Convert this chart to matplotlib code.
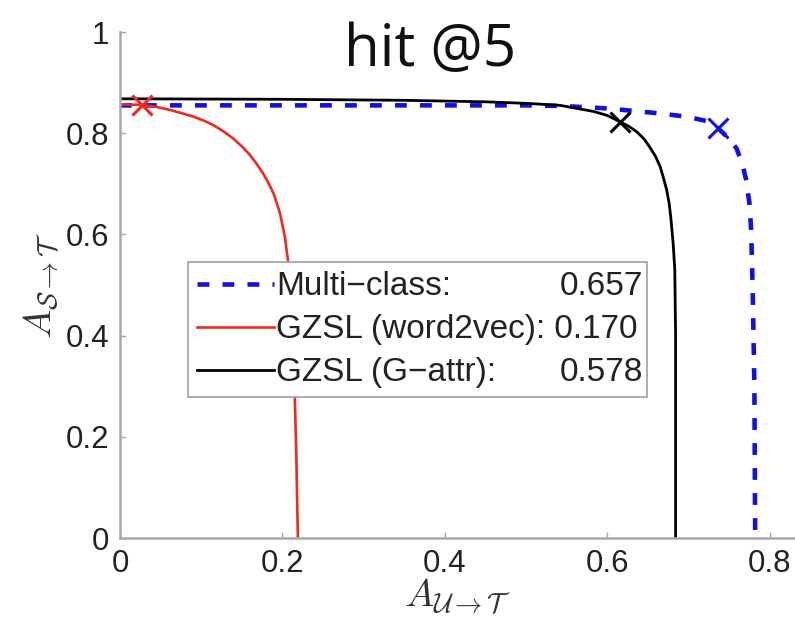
import matplotlib
matplotlib.use("Agg")
import matplotlib.pyplot as plt

# curves (x = A_U->T, y = A_S->T)
multi_x = [0.000, 0.200, 0.400, 0.500, 0.542, 0.600, 0.665, 0.700, 0.722, 0.736,
           0.748, 0.759, 0.766, 0.771, 0.775, 0.777, 0.779, 0.781, 0.782]
multi_y = [0.855, 0.855, 0.855, 0.855, 0.854, 0.849, 0.839, 0.832, 0.824, 0.810,
           0.792, 0.770, 0.740, 0.707, 0.660, 0.609, 0.484, 0.300, 0.000]

w2v_x = [0.000, 0.025, 0.045, 0.0615, 0.075, 0.090, 0.103, 0.115, 0.127, 0.139,
         0.150, 0.160, 0.168, 0.176, 0.183, 0.189, 0.193, 0.197, 0.200, 0.203,
         0.205, 0.207, 0.210, 0.212, 0.214, 0.2155, 0.217, 0.218, 0.219]
w2v_y = [0.857, 0.856, 0.852, 0.846, 0.840, 0.833, 0.825, 0.816, 0.804, 0.790,
         0.774, 0.757, 0.740, 0.721, 0.701, 0.681, 0.662, 0.642, 0.619, 0.595,
         0.570, 0.546, 0.490, 0.430, 0.350, 0.260, 0.170, 0.080, 0.000]

gattr_x = [0.000, 0.200, 0.350, 0.450, 0.500, 0.542, 0.583, 0.600, 0.615, 0.626,
           0.636, 0.645, 0.652, 0.659, 0.665, 0.669, 0.673, 0.676, 0.678, 0.681,
           0.683, 0.684, 0.684]
gattr_y = [0.868, 0.867, 0.865, 0.862, 0.859, 0.855, 0.843, 0.835, 0.823, 0.814,
           0.803, 0.789, 0.773, 0.755, 0.734, 0.712, 0.688, 0.662, 0.635, 0.582,
           0.530, 0.400, 0.000]

# operating points marked with x
marker_x = [0.736, 0.027, 0.615]
marker_y = [0.810, 0.856, 0.822]

names = ["Multi\u2212class:", "GZSL (word2vec):", "GZSL (G\u2212attr):"]
scores = ["0.657", "0.170", "0.578"]
colors = ["#1010e0", "#ee2a1a", "#000000"]

x_ticks = [0, 0.2, 0.4, 0.6, 0.8]
x_tick_labels = ["0", "0.2", "0.4", "0.6", "0.8"]
y_ticks = [0, 0.2, 0.4, 0.6, 0.8, 1]
y_tick_labels = ["0", "0.2", "0.4", "0.6", "0.8", "1"]

plt.rcParams["font.family"] = ["Liberation Sans", "DejaVu Sans"]
plt.rcParams["mathtext.fontset"] = "cm"
plt.rcParams["lines.scale_dashes"] = False

fig = plt.figure(figsize=(7.95, 6.22), dpi=100)
ax = fig.add_axes([120 / 795, 84 / 622, 675 / 795, 506 / 622])

l1, = ax.plot(multi_x, multi_y, color=colors[0], lw=3.3, dashes=(8.5, 9.5))
l2, = ax.plot(w2v_x, w2v_y, color=colors[1], lw=1.9)
l3, = ax.plot(gattr_x, gattr_y, color=colors[2], lw=2.0)
lines = [l1, l2, l3]

for i in range(3):
    ax.plot(marker_x[i], marker_y[i], marker="x", color=colors[i],
            markersize=15, markeredgewidth=2.2, ls="none")

ax.set_xlim(0, 0.831)
ax.set_ylim(0, 1)
ax.set_xticks(x_ticks)
ax.set_xticklabels(x_tick_labels)
ax.set_yticks(y_ticks)
ax.set_yticklabels(y_tick_labels)

for side in ["top", "right"]:
    ax.spines[side].set_visible(False)
for side in ["left", "bottom"]:
    ax.spines[side].set_color("#a8a8a8")
    ax.spines[side].set_linewidth(1.8)
ax.tick_params(direction="in", length=4, width=1, color="#a8a8a8",
               labelsize=22.5, labelcolor="#222222", pad=8)

ax.set_xlabel(r"$A_{\mathcal{U}\rightarrow\mathcal{T}}$", fontsize=28,
              color="#333333", labelpad=-2)
ax.set_ylabel(r"$A_{\mathcal{S}\rightarrow\mathcal{T}}$", fontsize=28,
              color="#333333", labelpad=2)

fig.text(430 / 795, 1 - 66 / 622, "hit @5", fontsize=42, family="Open Sans",
         ha="center", va="baseline", color="#111111")

labels = [names[0], names[1] + " " + scores[1], names[2]]
leg = ax.legend(lines, labels, loc="upper left", bbox_to_anchor=(0.1007, 0.545),
                borderaxespad=0, fontsize=24, handlelength=2.3, handletextpad=0.08,
                borderpad=0.27, labelspacing=0.36, fancybox=False, framealpha=1,
                edgecolor="#a0a0a0")
leg.get_frame().set_linewidth(1.2)
for t in leg.get_texts():
    t.set_color("#222222")

# right-align the other scores with the word2vec entry
fig.canvas.draw()
renderer = fig.canvas.get_renderer()
texts = leg.get_texts()
right_edge = texts[1].get_window_extent(renderer).x1 + 5
for i in [0, 2]:
    bb = texts[i].get_window_extent(renderer)
    fig.text(right_edge / fig.bbox.width, (bb.y0 + bb.y1) / 2 / fig.bbox.height,
             scores[i], fontsize=24, ha="right", va="center", color="#222222",
             zorder=10)

fig.savefig("out.png", dpi=100)
